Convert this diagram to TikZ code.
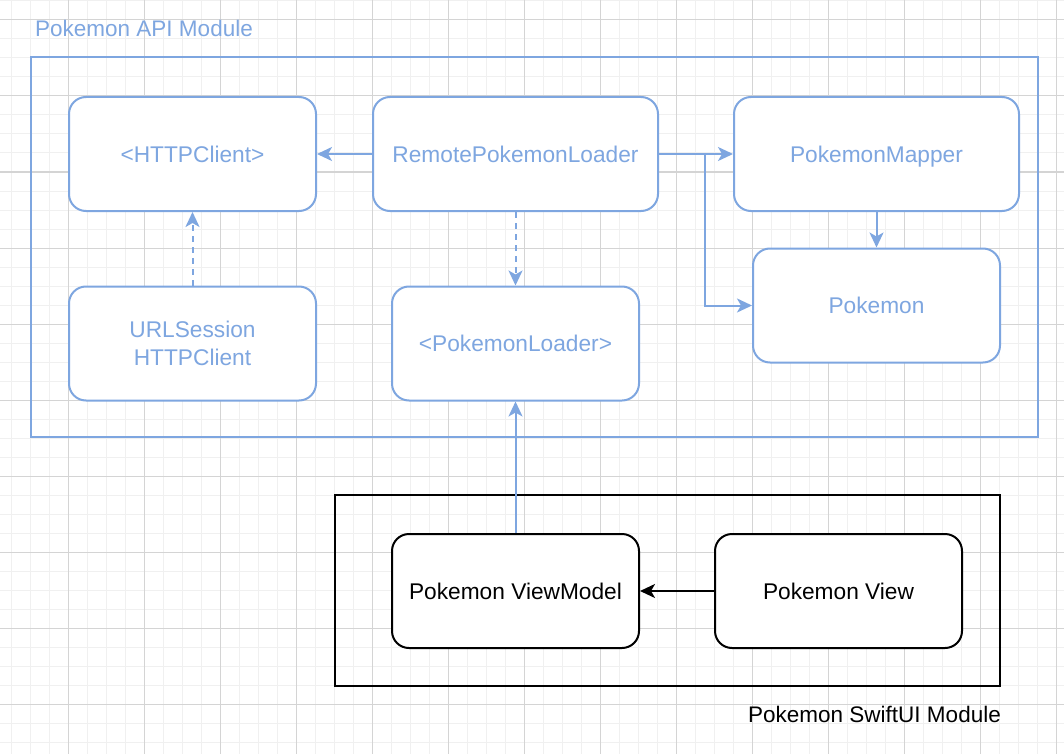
\documentclass[tikz,border=0pt]{standalone}
\usepackage{fontspec}
\setmainfont{Liberation Sans}
\usetikzlibrary{arrows.meta}
\definecolor{apiblue}{HTML}{7EA6E0}
\definecolor{gridminor}{HTML}{F0F0F0}
\definecolor{gridmajor}{HTML}{D4D4D4}
\tikzset{
  minorgrid/.style={draw=gridminor, line width=1pt},
  majorgrid/.style={draw=gridmajor, line width=1pt},
  boxbase/.style={draw=apiblue, line width=2pt, rounded corners=17pt, fill=white,
    text=apiblue, minimum width=247pt, minimum height=114pt, align=center,
    font=\fontsize{22.7}{28}\selectfont, inner sep=0pt},
  bluebox/.style={boxbase, text height=16.5pt, text depth=0pt},
  widebox/.style={bluebox, minimum width=285pt},
  blackbox/.style={bluebox, draw=black, text=black},
  harrow/.style={line width=2pt, -{Stealth[length=15pt,width=14pt,inset=4pt]}},
  bluearrow/.style={harrow, draw=apiblue, color=apiblue},
  bluedash/.style={bluearrow, dash pattern=on 6pt off 5pt},
  blackarrow/.style={harrow, draw=black, color=black},
  label/.style={font=\fontsize{22.5}{27}\selectfont, anchor=west, inner sep=0pt}
}
\begin{document}
\begin{tikzpicture}[x=1pt,y=-1pt]
\useasboundingbox (0,0) rectangle (1064,754);
\fill[white] (0,0) rectangle (1064,754);
% grid
\foreach \x in {11.7,30.7,...,1064} \draw[minorgrid] (\x,0) -- (\x,754);
\foreach \y in {1,20,...,754} \draw[minorgrid] (0,\y) -- (1064,\y);
\foreach \x in {68.7,144.7,...,1064} \draw[majorgrid] (\x,0) -- (\x,754);
\foreach \y in {20,96,...,754} \draw[majorgrid] (0,\y) -- (1064,\y);

% module frames
\draw[apiblue, line width=2pt] (31,57) rectangle (1038,437);
\draw[black, line width=2pt] (335,495) rectangle (1000,686);
\node[label, text=apiblue] (apititle) at (35,28) {Pokemon API Module};
\node[label, text=black] (uititle) at (748,714) {Pokemon SwiftUI Module};

% nodes
\node[bluebox] (http) at (192.5,154) {<HTTPClient>};
\node[widebox] (remote) at (515.5,154) {RemotePokemonLoader};
\node[widebox] (mapper) at (876.5,154) {PokemonMapper};
\node[bluebox] (pokemon) at (876.5,305.5) {Pokemon};
\node[boxbase] (urlsession) at (192.5,343.5) {URLSession\\HTTPClient};
\node[bluebox] (loader) at (515.5,343.5) {<PokemonLoader>};
\node[blackbox] (vm) at (515.5,591) {Pokemon ViewModel};
\node[blackbox] (view) at (838.5,591) {Pokemon View};

% connectors
\draw[bluearrow] (remote.west) -- (http.east);
\draw[bluearrow] (remote.east) -- (mapper.west);
\coordinate (split) at (705,154);
\draw[bluearrow] (split) |- (pokemon.west);
\draw[bluearrow] (mapper.south) -- (pokemon.north);
\draw[bluedash] (urlsession.north) -- (http.south);
\draw[bluedash] (remote.south) -- (loader.north);
\draw[bluearrow] (vm.north) -- (loader.south);
\draw[blackarrow] (view.west) -- (vm.east);
\end{tikzpicture}
\end{document}
